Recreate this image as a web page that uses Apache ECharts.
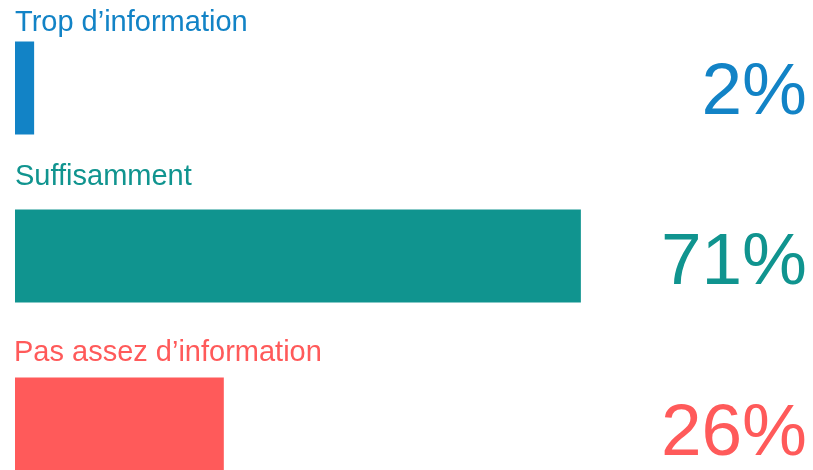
<!DOCTYPE html>
<html>
<head>
<meta charset="utf-8">
<script src="https://cdn.jsdelivr.net/npm/echarts@6/dist/echarts.min.js"></script>
<style>
  html, body { margin: 0; padding: 0; background: #fff; overflow: hidden; }
  /* la dernière barre est coupée par le bas de l'image */
  #chart { width: 813px; height: 509px; }
</style>
</head>
<body>
<div id="chart"></div>
<script>
// réponses, de haut en bas
const categories = ['Trop d\u2019information', 'Suffisamment', 'Pas assez d\u2019information'];
// longueur des barres (en %)
const shares = [2.4, 71, 26.2];
// libellés affichés à droite
const percentLabels = ['2%', '71%', '26%'];

const colors = ['#1283C6', '#10948F', '#FF5A5A'];
// décalage du titre au-dessus de chaque barre
const titleOffsets = [[0, -19], [0, -33], [-1, -25]];
// décalage vertical des pourcentages
const pctPadding = [12, 15, 22];

let myChart = echarts.init(document.getElementById('chart'));

let rich = {};
for (let i = 0; i < colors.length; i++) {
    rich['p' + i] = {
        color: colors[i],
        fontFamily: 'Liberation Sans',
        fontSize: 73,
        padding: [pctPadding[i], 0, 0, 0]
    };
}

let option = {
    backgroundColor: '#fff',
    animation: false,
    grid: {
        left: 15,
        right: 1,
        top: 4,
        bottom: 1,
        containLabel: false
    },
    xAxis: {
        type: 'value',
        min: 0,
        max: 100,
        show: false
    },
    yAxis: [
        {
            type: 'category',
            data: categories,
            inverse: true,
            show: false
        },
        {
            type: 'category',
            data: percentLabels,
            inverse: true,
            position: 'right',
            axisLine: { show: false },
            axisTick: { show: false },
            axisLabel: {
                inside: true,
                margin: 5,
                formatter: function (value, index) {
                    return '{p' + index + '|' + value + '}';
                },
                rich: rich
            }
        }
    ],
    series: [
        {
            type: 'bar',
            yAxisIndex: 0,
            barWidth: 93,
            data: shares.map(function (v, i) {
                return {
                    value: v,
                    itemStyle: { color: colors[i] },
                    label: {
                        show: true,
                        position: titleOffsets[i],
                        align: 'left',
                        verticalAlign: 'middle',
                        formatter: categories[i],
                        fontFamily: 'Liberation Sans',
                        fontSize: 29,
                        color: colors[i]
                    }
                };
            })
        }
    ]
};

myChart.setOption(option);
window.onresize = function () {
    myChart.resize();
};
</script>
</body>
</html>
